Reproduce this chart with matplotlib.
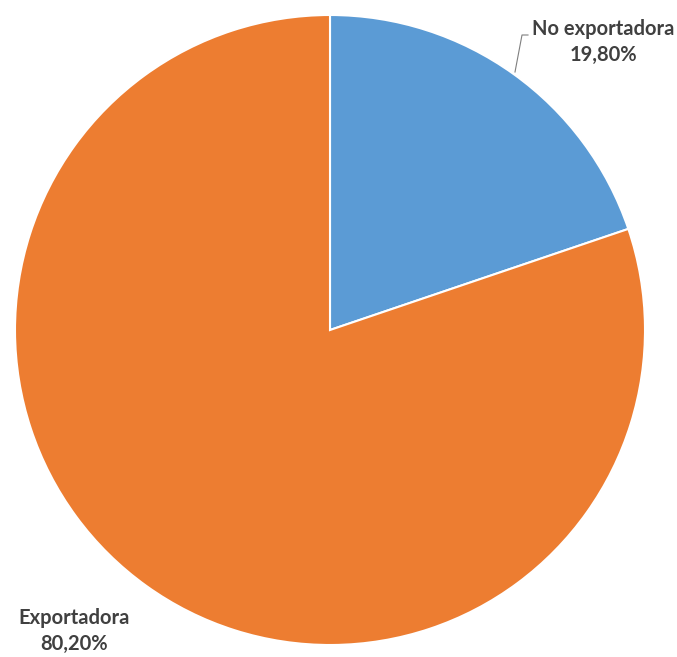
import matplotlib.pyplot as plt

labels = ['No exportadora', 'Exportadora']
shares = [19.80, 80.20]
colors = ['#5B9BD5', '#ED7D31']

W, H = 677, 657
fig = plt.figure(figsize=(W / 100, H / 100), dpi=100)
# pie centred at (330, 330) px with 315 px radius
ax = fig.add_axes([15 / W, 12 / H, 630 / W, 630 / H])
ax.pie(shares, colors=colors, startangle=90, counterclock=False,
       radius=1, wedgeprops=dict(edgecolor='white', linewidth=1.5))
ax.set_xlim(-1, 1)
ax.set_ylim(-1, 1)
ax.set_aspect('equal')
ax.axis('off')


def px(x, y):
    return (x - 330) / 315, (330 - y) / 315


def fmt(v):
    return f'{v:.2f}%'.replace('.', ',')


style = dict(fontsize=14.5, fontweight='bold', color='#404040',
             family=['Lato', 'DejaVu Sans'], ha='center', va='center',
             linespacing=1.4)

ax.text(*px(603, 42), f'{labels[0]}\n{fmt(shares[0])}', clip_on=False, **style)
ax.text(*px(74, 631), f'{labels[1]}\n{fmt(shares[1])}', clip_on=False, **style)

# leader line for the small slice
lx, ly = zip(px(515, 72), px(522, 35), px(528, 35))
ax.plot(lx, ly, color='#7F7F7F', linewidth=0.8, clip_on=False)

fig.savefig('out.png', dpi=100)
